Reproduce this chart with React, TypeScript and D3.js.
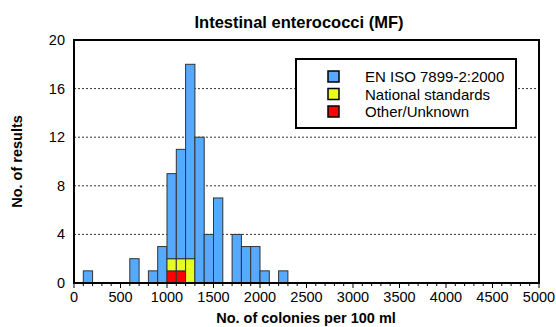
import React from "react";
import * as d3 from "d3";

const binStarts = [100, 600, 800, 900, 1000, 1100, 1200, 1300, 1400, 1500, 1700, 1800, 1900, 2000, 2200];
const totals =    [1,   2,   1,   3,   9,    11,   18,   12,   4,    7,    4,    3,    3,    1,    1];
const national =  [0,   0,   0,   0,   1,    1,    2,    0,    0,    0,    0,    0,    0,    0,    0];
const other =     [0,   0,   0,   0,   1,    1,    0,    0,    0,    0,    0,    0,    0,    0,    0];
const binWidth = 100;
const seriesNames = ["EN ISO 7899-2:2000", "National standards", "Other/Unknown"];
const seriesColors = ["#55AAFF", "#E6FF22", "#FF0000"];
const yTicks = [0, 4, 8, 12, 16, 20];
const xMajorTicks = [0, 500, 1000, 1500, 2000, 2500, 3000, 3500, 4000, 4500, 5000];

export default function App() {
  const W = 556, H = 327;
  const m = { l: 74, r: 17, t: 40, b: 44 };
  const x = d3.scaleLinear().domain([0, 5000]).range([m.l, W - m.r]);
  const y = d3.scaleLinear().domain([0, 20]).range([H - m.b, m.t]);
  const font = "Arial, 'Liberation Sans', sans-serif";
  const minor = d3.range(0, 5001, 100);

  const rects: any[] = [];
  binStarts.forEach((b, i) => {
    const r = other[i], n = national[i], t = totals[i];
    const segs = [
      { lo: 0, hi: r, c: seriesColors[2] },
      { lo: r, hi: r + n, c: seriesColors[1] },
      { lo: r + n, hi: t, c: seriesColors[0] },
    ];
    segs.forEach((s, j) => {
      if (s.hi > s.lo) {
        rects.push(
          <rect key={`${i}-${j}`} x={x(b)} y={y(s.hi)} width={x(b + binWidth) - x(b)} height={y(s.lo) - y(s.hi)}
            fill={s.c} stroke="#333" strokeWidth={1} />
        );
      }
    });
  });

  return (
    <svg width={W} height={H} style={{ position: "absolute", left: 0, top: 0, fontFamily: font }}>
      <rect x={0} y={0} width={W} height={H} fill="#fff" />
      <text x={299} y={28} textAnchor="middle" fontSize={16.5} fontWeight="bold">Intestinal enterococci (MF)</text>
      {yTicks.filter(v => v > 0 && v < 20).map(v => (
        <line key={v} x1={m.l} x2={W - m.r} y1={y(v)} y2={y(v)} stroke="#333" strokeDasharray="2,2" strokeWidth={1} />
      ))}
      {rects}
      <rect x={m.l} y={m.t} width={W - m.r - m.l} height={H - m.b - m.t} fill="none" stroke="#000" strokeWidth={2} />
      {minor.map(v => (
        <line key={v} x1={x(v)} x2={x(v)} y1={H - m.b} y2={H - m.b + (v % 500 === 0 ? 5 : 3)} stroke="#000" strokeWidth={1} />
      ))}
      {xMajorTicks.map(v => (
        <text key={v} x={x(v)} y={H - m.b + 19} textAnchor="middle" fontSize={14.5}>{v}</text>
      ))}
      {yTicks.map(v => (
        <text key={v} x={m.l - 9} y={y(v) + 5} textAnchor="end" fontSize={14.5}>{v}</text>
      ))}
      <text x={306} y={H - 4} textAnchor="middle" fontSize={14.5} fontWeight="bold">No. of colonies per 100 ml</text>
      <text transform={`translate(22,${(m.t + H - m.b) / 2}) rotate(-90)`} textAnchor="middle" fontSize={14.5} fontWeight="bold">No. of results</text>
      <rect x={296} y={59} width={220} height={69} fill="#fff" stroke="#000" strokeWidth={2} />
      {seriesNames.map((s, i) => (
        <g key={s}>
          <rect x={328} y={71 + i * 17.5} width={11} height={11} fill={seriesColors[i]} stroke="#000" strokeWidth={1.5} />
          <text x={365} y={82 + i * 17.5} fontSize={15}>{s}</text>
        </g>
      ))}
    </svg>
  );
}
